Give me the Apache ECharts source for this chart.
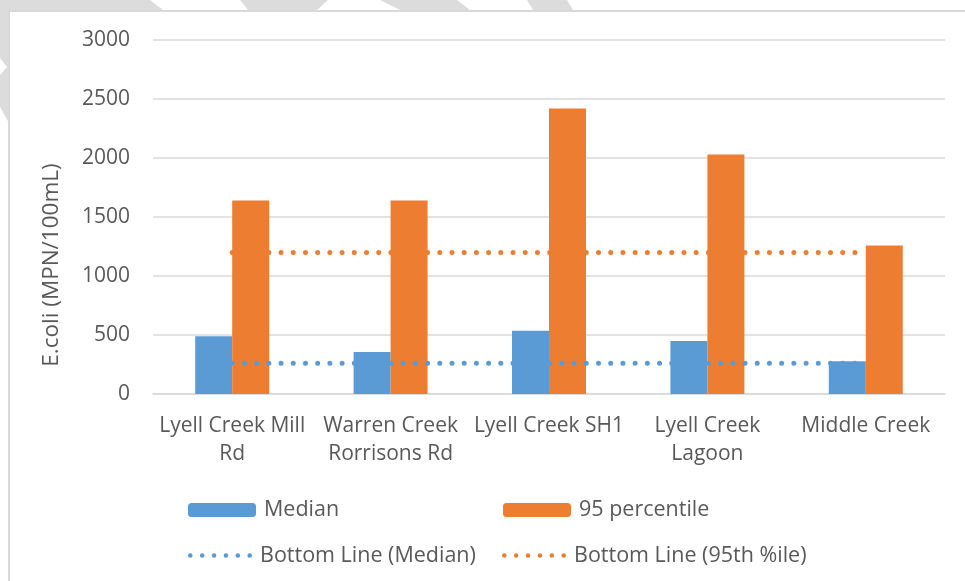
<!DOCTYPE html>
<html>
<head>
<meta charset="utf-8">
<script src="https://cdn.jsdelivr.net/npm/echarts@6/dist/echarts.min.js"></script>
<style>
  html, body { margin: 0; padding: 0; background: #fff; }
  #chart { width: 965px; height: 581px; }
</style>
</head>
<body>
<div id="chart"></div>
<script>
// sites along the x axis, and how their labels wrap
const sites = ['Lyell Creek Mill Rd', 'Warren Creek Rorrisons Rd', 'Lyell Creek SH1', 'Lyell Creek Lagoon', 'Middle Creek'];
const siteLabels = ['Lyell Creek Mill\nRd', 'Warren Creek\nRorrisons Rd', 'Lyell Creek SH1', 'Lyell Creek\nLagoon', 'Middle Creek'];

// E.coli values (MPN/100mL)
const median = [490, 355, 535, 450, 278];
const pct95 = [1640, 1640, 2420, 2030, 1258];
const bottomMedian = [260, 260, 260, 260, 260];
const bottom95 = [1200, 1200, 1200, 1200, 1200];

const yTicks = [0, 500, 1000, 1500, 2000, 2500, 3000];
const yTitle = 'E.coli (MPN/100mL)';

const blue = '#5B9BD5';
const orange = '#ED7D31';
const grey = '#595959';
const font = 'Open Sans';

const chart = echarts.init(document.getElementById('chart'));

// light watermark pieces showing outside the chart box
const wm = '#dcdcdc';
const watermark = [
  [[0, 0], [150, 0], [163, 10], [0, 10]],
  [[240, 0], [328, 0], [317, 10], [248, 10]],
  [[380, 0], [457, 0], [470, 10], [400, 10]],
  [[527, 0], [567, 0], [573, 10], [533, 10]],
  [[0, 10], [9, 10], [9, 123], [0, 107]]
];

const graphics = watermark.map(p => ({
  type: 'polygon', z: -10, silent: true,
  shape: { points: p },
  style: { fill: wm }
}));
graphics.push({
  type: 'polygon', z: -9, silent: true,
  shape: { points: [[0, 58], [7, 67], [0, 75]] },
  style: { fill: '#fff' }
});
graphics.push({
  type: 'rect', z: -8, silent: true,
  shape: { x: 9, y: 11, width: 1000, height: 620 },
  style: { fill: '#fff', stroke: '#d9d9d9', lineWidth: 2 }
});
// axis title, rotated
graphics.push({
  type: 'text', silent: true,
  x: 52, y: 265, rotation: Math.PI / 2,
  style: {
    text: yTitle, fill: grey, fontFamily: font, fontSize: 22.5,
    align: 'center', verticalAlign: 'middle'
  }
});

// six round dots for the dotted-line legend icons
function dotsPath() {
  const r = 2.3, step = 11.9;
  let d = 'path://';
  for (let i = 0; i < 6; i++) {
    const cx = r + i * step;
    d += 'M' + (cx - r) + ' ' + r + 'a' + r + ' ' + r + ' 0 1 0 ' + (2 * r) + ' 0' +
         'a' + r + ' ' + r + ' 0 1 0 ' + (-2 * r) + ' 0Z';
  }
  return d;
}

const dotted = { width: 5, type: [0.01, 12.2], cap: 'round' };

function legendAt(item, left, top, w, h) {
  return {
    data: [item],
    left: left,
    top: top,
    itemWidth: w,
    itemHeight: h,
    itemGap: 0,
    padding: 0,
    selectedMode: false,
    textStyle: { color: grey, fontFamily: font, fontSize: 21.5, padding: [0, 0, 0, 3] }
  };
}

const option = {
  animation: false,
  graphic: { elements: graphics },
  textStyle: { fontFamily: font },
  grid: { left: 153, right: 20, top: 40, bottom: 187 },
  legend: [
    legendAt('Median', 188, 499, 68, 14),
    legendAt('95 percentile', 503, 499, 68, 14),
    legendAt({ name: 'Bottom Line (Median)', icon: dotsPath() }, 188, 544.5, 64, 4.6),
    legendAt({ name: 'Bottom Line (95th %ile)', icon: dotsPath() }, 502, 544.5, 64, 4.6)
  ],
  xAxis: {
    type: 'category',
    data: sites,
    axisTick: { show: false },
    axisLine: { lineStyle: { color: '#d9d9d9', width: 1.5 } },
    axisLabel: {
      color: grey,
      fontFamily: font,
      fontSize: 21,
      lineHeight: 28,
      margin: 18,
      interval: 0,
      formatter: (v, i) => siteLabels[i]
    }
  },
  yAxis: {
    type: 'value',
    min: yTicks[0],
    max: yTicks[yTicks.length - 1],
    interval: 500,
    axisLine: { show: false },
    axisTick: { show: false },
    axisLabel: { color: grey, fontFamily: font, fontSize: 21, margin: 23, formatter: v => String(v) },
    splitLine: { lineStyle: { color: '#d9d9d9', width: 1.5 } }
  },
  series: [
    {
      name: 'Median',
      type: 'bar',
      data: median,
      barWidth: 37,
      barGap: '0%',
      itemStyle: { color: blue }
    },
    {
      name: '95 percentile',
      type: 'bar',
      data: pct95,
      barWidth: 37,
      barGap: '0%',
      itemStyle: { color: orange }
    },
    {
      name: 'Bottom Line (Median)',
      type: 'line',
      data: bottomMedian,
      symbol: 'none',
      z: 5,
      lineStyle: Object.assign({ color: blue }, dotted),
      itemStyle: { color: blue }
    },
    {
      name: 'Bottom Line (95th %ile)',
      type: 'line',
      data: bottom95,
      symbol: 'none',
      z: 5,
      lineStyle: Object.assign({ color: orange }, dotted),
      itemStyle: { color: orange }
    }
  ]
};

chart.setOption(option);
</script>
</body>
</html>
